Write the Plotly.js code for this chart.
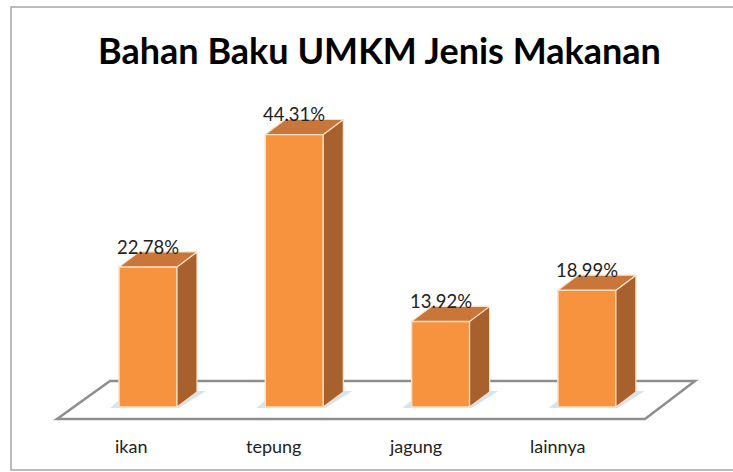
<!DOCTYPE html>
<html>
<head>
<meta charset="utf-8">
<script src="https://cdn.plot.ly/plotly-3.0.1.min.js"></script>
<style>html,body{margin:0;padding:0;background:#fff;}#chart{width:733px;height:472px;}</style>
</head>
<body>
<div id="chart"></div>
<script>
// ---- data ----
const categories = ["ikan", "tepung", "jagung", "lainnya"];
const values = [22.78, 44.31, 13.92, 18.99];
const valueLabels = values.map(v => v.toFixed(2) + "%");
const chartTitle = "Bahan Baku UMKM Jenis Makanan";

// ---- scale / style constants ----
const W = 733, H = 472;
const PX_PER_CAT = 146.3;      // pixels per category step
const PX_PER_PCT = 6.15;       // pixels per percent
const X0_PX = 148;             // pixel of first category centre
const Y0_PX = 407;             // pixel of value 0
const xRange = [-X0_PX / PX_PER_CAT, (W - X0_PX) / PX_PER_CAT];
const yRange = [-(H - Y0_PX) / PX_PER_PCT, Y0_PX / PX_PER_PCT];

const barW = 58 / PX_PER_CAT;
const dX = 20 / PX_PER_CAT;    // 3D depth offset (x)
const dY = 15 / PX_PER_PCT;    // 3D depth offset (y)
const px = p => p / PX_PER_CAT; // pixel -> x units
const py = p => p / PX_PER_PCT; // pixel -> y units

const frontColor = "#F7923F";
const topColor = "#C8763A";
const sideColor = "#A8612D";
const edgeColor = "#FCE0C2";

const xs = categories.map((_, i) => i);
const traces = [];

// side faces
xs.forEach((x, i) => {
  const r = x + barW / 2, v = values[i];
  traces.push({
    type: "scatter", mode: "lines", fill: "toself",
    x: [r, r, r + dX, r + dX, r],
    y: [0, v, v + dY, dY, 0],
    line: {color: edgeColor, width: 1.2}, fillcolor: sideColor,
    hoverinfo: "skip", showlegend: false
  });
});
// top faces
xs.forEach((x, i) => {
  const l = x - barW / 2, r = x + barW / 2, v = values[i];
  traces.push({
    type: "scatter", mode: "lines", fill: "toself",
    x: [l, r, r + dX, l + dX, l],
    y: [v, v, v + dY, v + dY, v],
    line: {color: edgeColor, width: 1.2}, fillcolor: topColor,
    hoverinfo: "skip", showlegend: false
  });
});
// front faces (bars)
traces.push({
  type: "bar", x: xs, y: values, width: barW,
  marker: {color: frontColor, line: {color: edgeColor, width: 1.5}},
  hoverinfo: "skip", showlegend: false
});

// floor parallelogram
const fBack = (Y0_PX - 381) / PX_PER_PCT;
const fFront = (Y0_PX - 419) / PX_PER_PCT;
const fxBL = (110 - X0_PX) / PX_PER_CAT, fxBR = (695 - X0_PX) / PX_PER_CAT;
const fxFL = (57 - X0_PX) / PX_PER_CAT, fxFR = (645 - X0_PX) / PX_PER_CAT;

const shapes = [
  {type: "rect", xref: "paper", yref: "paper",
   x0: 11 / W, x1: 1.15, y0: 1 - 470 / H, y1: 1 - 7 / H,
   line: {color: "#A5A5A5", width: 1.5}, fillcolor: "rgba(0,0,0,0)", layer: "below"},
  {type: "path", xref: "x", yref: "y", layer: "below",
   path: `M${fxBL},${fBack} L${fxBR},${fBack} L${fxFR},${fFront} L${fxFL},${fFront} Z`,
   fillcolor: "#ffffff", line: {color: "#8E8E8E", width: 2.5}}
];
// soft shadows on the floor (beneath the bars)
xs.forEach((x, i) => {
  const l = x - barW / 2, r = x + barW / 2;
  const pts = [
    [l - px(9), py(-1)], [r + px(2), py(-1)],
    [r + dX + px(9), dY + py(1)], [l + dX - px(9), dY + py(1)]
  ];
  shapes.push({
    type: "path", xref: "x", yref: "y", layer: "below",
    path: "M" + pts.map(p => p[0] + "," + p[1]).join(" L") + " Z",
    fillcolor: "rgba(160,195,230,0.45)", line: {width: 0}
  });
});

const annotations = [];
// value labels
xs.forEach((x, i) => {
  annotations.push({
    x: x, y: values[i], xref: "x", yref: "y", text: valueLabels[i],
    showarrow: false, yshift: 20, yanchor: "middle",
    font: {family: "Lato, 'Open Sans', sans-serif", size: 18.5, color: "#222"}
  });
});
// category labels
const LABEL_X0_PX = 131, LABEL_STEP_PX = 142, LABEL_Y_PX = 446;
categories.forEach((c, i) => {
  annotations.push({
    x: (LABEL_X0_PX + LABEL_STEP_PX * i - X0_PX) / PX_PER_CAT,
    y: (Y0_PX - LABEL_Y_PX) / PX_PER_PCT,
    xref: "x", yref: "y", text: c, showarrow: false, yanchor: "middle",
    font: {family: "Lato, 'Open Sans', sans-serif", size: 18, color: "#222"}
  });
});

const layout = {
  width: W, height: H,
  margin: {l: 0, r: 0, t: 0, b: 0, pad: 0},
  paper_bgcolor: "#ffffff", plot_bgcolor: "rgba(0,0,0,0)",
  title: {
    text: "<b>" + chartTitle + "</b>",
    x: 379.5 / W, xref: "container", xanchor: "center",
    y: 1 - 51 / H, yref: "container", yanchor: "middle",
    font: {family: "Lato, 'Open Sans', sans-serif", size: 36, color: "#000"}
  },
  xaxis: {range: xRange, visible: false, fixedrange: true},
  yaxis: {range: yRange, visible: false, fixedrange: true},
  showlegend: false,
  shapes: shapes,
  annotations: annotations
};

Plotly.newPlot("chart", traces, layout, {displayModeBar: false, staticPlot: true});
</script>
</body>
</html>
